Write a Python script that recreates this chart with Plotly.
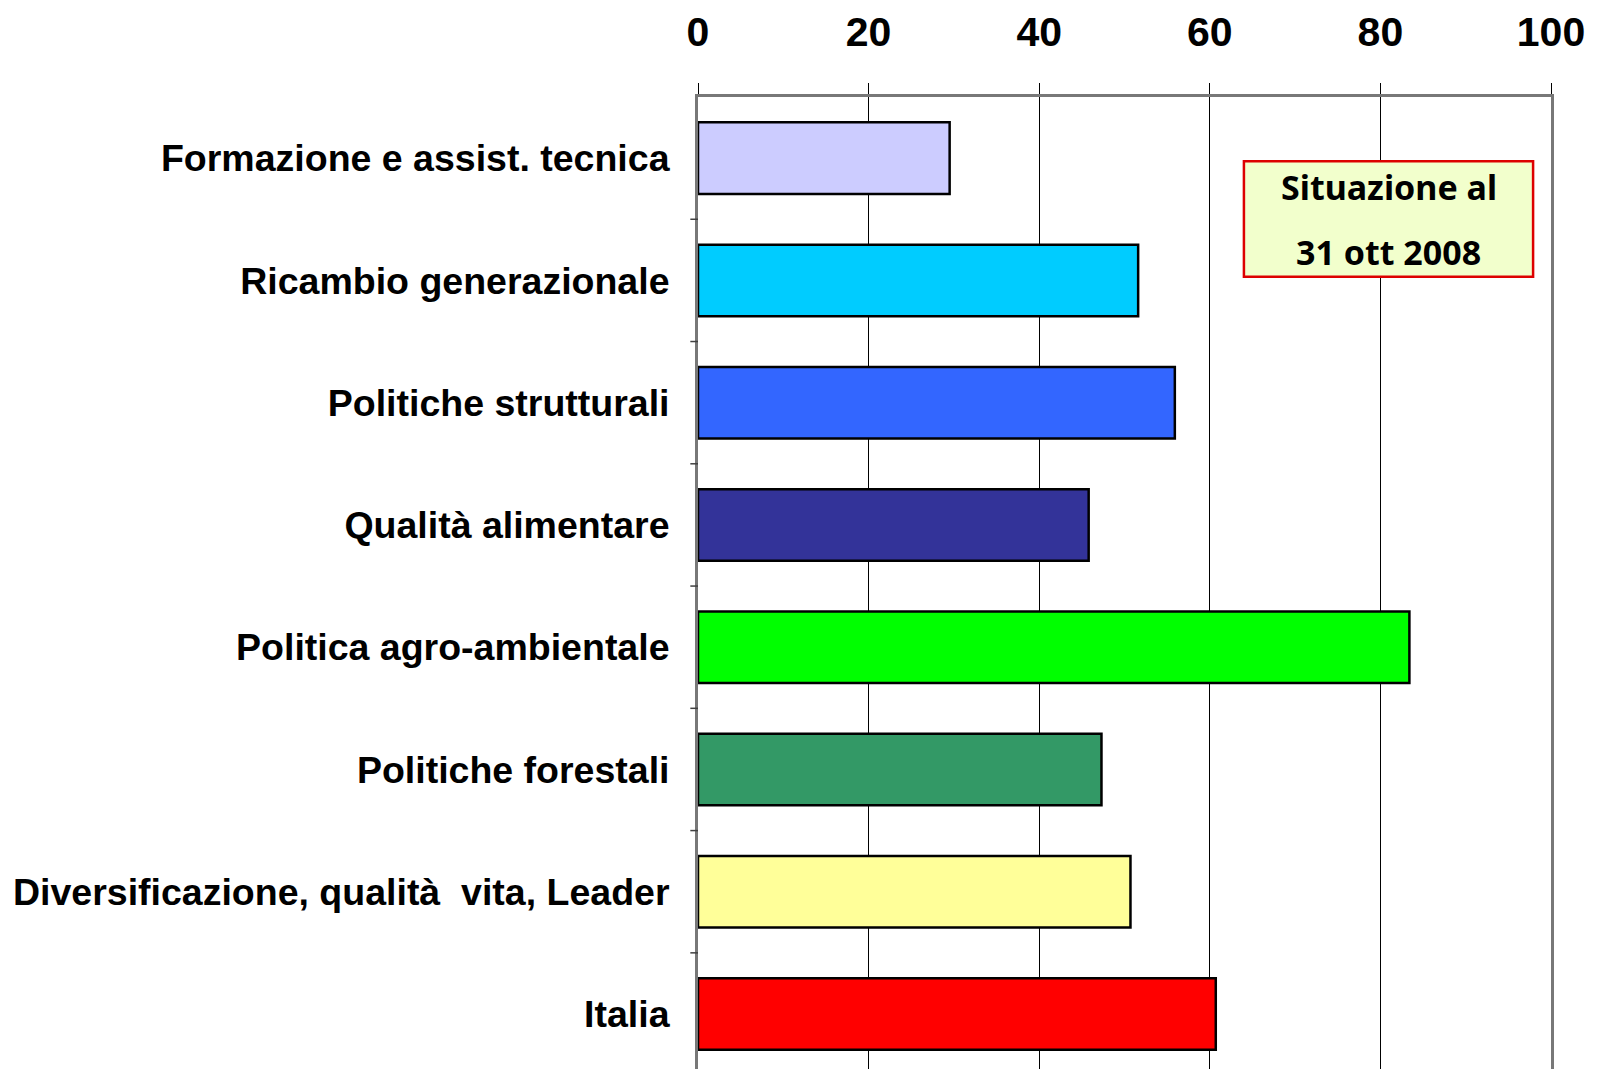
import plotly.graph_objects as go

categories = [
    "Formazione e assist. tecnica",
    "Ricambio generazionale",
    "Politiche strutturali",
    "Qualità alimentare",
    "Politica agro-ambientale",
    "Politiche forestali",
    "Diversificazione, qualità\u00a0 vita, Leader",
    "Italia",
]
values = [29.5, 51.6, 55.9, 45.8, 83.4, 47.3, 50.7, 60.7]
colors = ["#CCCCFF", "#00CCFF", "#3366FF", "#333399", "#00FF00", "#339966", "#FFFF99", "#FF0000"]
x_ticks = [0, 20, 40, 60, 80, 100]
note_lines = ["Situazione al", "31 ott 2008"]

# page body has an 8px margin, so the figure is offset by 8px
W, H = 1594, 1061
L, R, T, B = 690, 51, 89, 0

fig = go.Figure()
fig.add_trace(go.Bar(
    y=list(range(len(categories))),
    x=values,
    orientation="h",
    width=0.585,
    marker=dict(color=colors, line=dict(color="black", width=2.5)),
    hoverinfo="x",
))

fig.update_layout(
    width=W, height=H,
    margin=dict(l=L, r=R, t=T, b=B, pad=0, autoexpand=False),
    plot_bgcolor="white",
    paper_bgcolor="white",
    showlegend=False,
)

fig.update_xaxes(
    side="top",
    automargin=False,
    range=[0, 100],
    tickvals=x_ticks,
    ticktext=[str(v) for v in x_ticks],
    showgrid=True, gridcolor="black", gridwidth=1,
    zeroline=False,
    showline=True, linecolor="#787878", linewidth=3,
    ticks="outside", ticklen=11, tickcolor="black", tickwidth=1,
    ticklabelstandoff=21,
    tickfont=dict(family="Liberation Sans, Arial", size=41, color="black", weight="bold"),
)

fig.update_yaxes(
    automargin=False,
    tickmode="array",
    tickvals=list(range(len(categories))),
    ticktext=categories,
    range=[7.45, -0.5],
    showgrid=False,
    zeroline=False,
    showline=True, linecolor="#787878", linewidth=3, mirror=True,
    ticks="",
    ticklabelstandoff=18,
    tickfont=dict(family="Liberation Sans, Arial", size=37.5, color="black", weight="bold"),
)

# boundary tick marks on the y axis
for i in range(len(categories) - 1):
    fig.add_shape(type="line", xref="paper", yref="y",
                  x0=-0.009, x1=0, y0=i + 0.5, y1=i + 0.5,
                  line=dict(color="#404040", width=1.5))

# note box
fig.add_shape(type="rect", xref="paper", yref="paper",
              x0=0.640, x1=0.979, y0=0.815, y1=0.934,
              fillcolor="#F2FFCC", line=dict(color="#DD0000", width=2.5), layer="above")
note_font = dict(family="Noto Sans, DejaVu Sans", size=34, color="black", weight="bold")
fig.add_annotation(xref="paper", yref="paper", x=0.8095, y=0.907,
                   xanchor="center", yanchor="middle",
                   text=note_lines[0], showarrow=False, font=note_font)
fig.add_annotation(xref="paper", yref="paper", x=0.8095, y=0.841,
                   xanchor="center", yanchor="middle",
                   text=note_lines[1], showarrow=False, font=note_font)

fig.write_html("out.html")
